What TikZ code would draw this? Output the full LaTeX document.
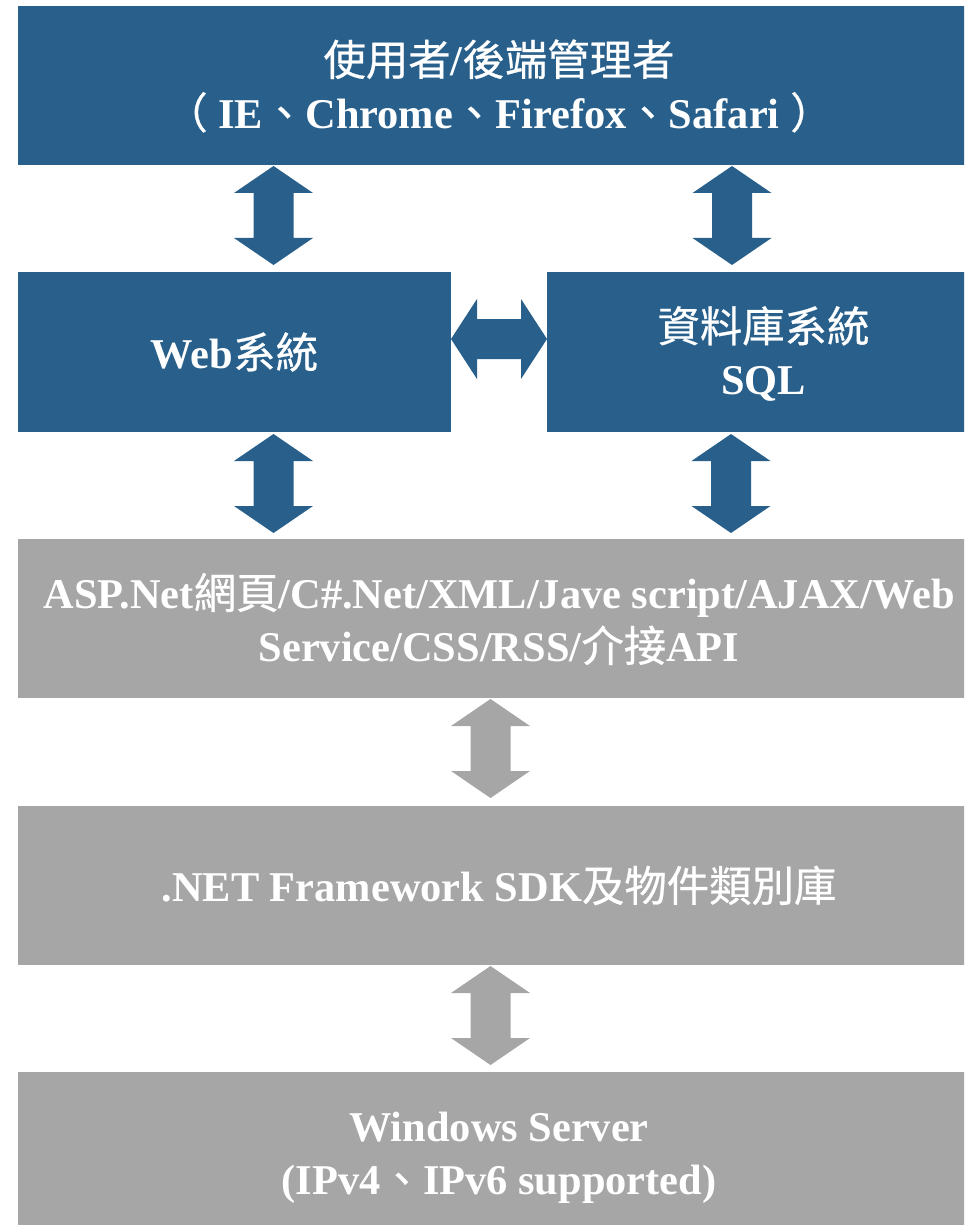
\documentclass[tikz,border=0pt]{standalone}
\usepackage{fontspec}
\setmainfont{Liberation Serif}
\newfontfamily\cjk[FakeBold=0.6]{Noto Sans CJK TC}
\newcommand\cj[1]{{\cjk\mdseries #1}}
\definecolor{blk}{RGB}{40,96,139}
\definecolor{gry}{RGB}{166,166,166}
\tikzset{
  box/.style={rectangle, inner sep=0pt},
  wide/.style={box, minimum width=481pt, minimum height=79.5pt},
  half/.style={box, minimum width=216.5pt, minimum height=80pt},
  lbl/.style={inner sep=0pt, align=center, text=white,
    font=\fontsize{21.2}{26.5}\selectfont\bfseries},
}
\newcommand\VArrow[4]{%
  \fill[#4] (#1,#2) -- (#1+39.5,#2+27) -- (#1+20,#2+27) -- (#1+20,#3-27)
    -- (#1+39.5,#3-27) -- (#1,#3) -- (#1-39.5,#3-27) -- (#1-20,#3-27)
    -- (#1-20,#2+27) -- (#1-39.5,#2+27) -- cycle;}
\newcommand\HArrow[4]{%
  \fill[#4] (#1,#3) -- (#1+26,#3-40) -- (#1+26,#3-20) -- (#2-26,#3-20)
    -- (#2-26,#3-40) -- (#2,#3) -- (#2-26,#3+40) -- (#2-26,#3+20)
    -- (#1+26,#3+20) -- (#1+26,#3+40) -- cycle;}
\begin{document}
\begin{tikzpicture}[x=0.5pt,y=-0.5pt]
\useasboundingbox (0,0) rectangle (964,1225);
\clip (0,0) rectangle (964,1225);
\node[wide, fill=blk] (top) at (499,85.5) {};
\node[half, fill=blk] (web) at (234.5,352) {};
\node[half, fill=blk] (db) at (763.5,352) {};
\node[wide, fill=gry] (asp) at (499,618.5) {};
\node[wide, fill=gry] (net) at (499,885.5) {};
\node[wide, fill=gry] (win) at (499,1151.5) {};
\node[lbl] (topt) at (499,86) {\cj{使用者}/\cj{後端管理者}\\\cj{（} IE\cj{、}Chrome\cj{、}Firefox\cj{、}Safari \cj{）}};
\node[lbl] (webt) at (234.5,352) {Web\cj{系統}};
\node[lbl] (dbt) at (763.5,354) {\cj{資料庫系統}\\SQL};
\node[lbl] (aspt) at (499,619) {ASP.Net\cj{網頁}/C\#.Net/XML/Jave script/AJAX/Web\\Service/CSS/RSS/\cj{介接}API};
\node[lbl] (nett) at (499,885.5) {.NET Framework SDK\cj{及物件類別庫}};
\node[lbl] (wint) at (499,1158) {Windows Server\\(IPv4\cj{、}IPv6 supported)};
\VArrow{273.5}{166}{265}{blk}
\VArrow{732}{166}{265}{blk}
\VArrow{273.5}{434}{533}{blk}
\VArrow{731}{434}{533}{blk}
\HArrow{451}{547}{339}{blk}
\VArrow{490.5}{699}{798}{gry}
\VArrow{490.5}{966}{1065}{gry}
\end{tikzpicture}
\end{document}
